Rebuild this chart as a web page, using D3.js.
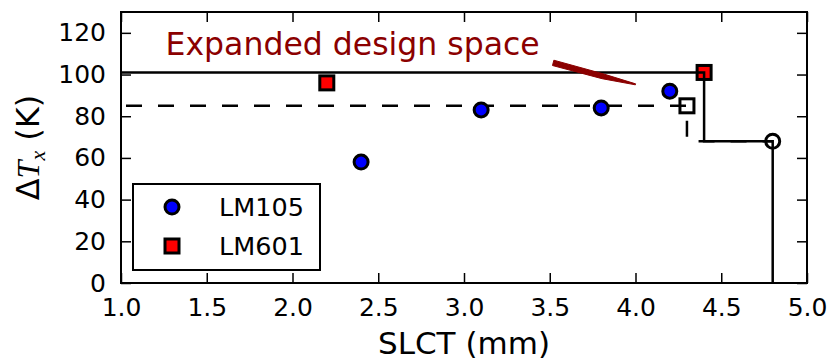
<!DOCTYPE html>
<html>
<head>
<meta charset="utf-8">
<script src="https://cdn.jsdelivr.net/npm/d3@7"></script>
<style>
  body { margin: 0; background: #fff; }
  svg { display: block; font-family: "DejaVu Sans", sans-serif; }
</style>
</head>
<body>
<svg id="chart" width="830" height="362"></svg>
<script>
// Data
const lm105X = [2.4, 3.1, 3.8, 4.2];
const lm105Y = [58, 83, 84, 92];
const lm601X = [2.2, 4.4];
const lm601Y = [96, 101];
// expanded design space boundary (solid) and old boundary (dashed)
const solidX = [1.0, 4.4, 4.4, 4.8, 4.8];
const solidY = [101, 101, 68, 68, 0];
const dashedX = [1.0, 4.3, 4.3, 4.8];
const dashedY = [85, 85, 68, 68];
// hollow markers at the boundary corners
const openSquare = [4.3, 85];
const openCircle = [4.8, 68];
const xTicks = [1.0, 1.5, 2.0, 2.5, 3.0, 3.5, 4.0, 4.5, 5.0];
const yTicks = [0, 20, 40, 60, 80, 100, 120];
const arrowFrom = [3.52, 105.6];
const arrowTo = [4.0, 95.3];

const svg = d3.select("#chart");
const plotL = 121, plotR = 807, plotT = 12, plotB = 283;

const x = d3.scaleLinear().domain([1, 5]).range([plotL, plotR]);
const y = d3.scaleLinear().domain([0, 130]).range([plotB, plotT]);

// ticks, inward on all four sides
const tickLen = 10;
const axes = [
    d3.axisBottom(x).tickValues(xTicks).tickFormat(d3.format(".1f")),
    d3.axisTop(x).tickValues(xTicks).tickFormat(""),
    d3.axisLeft(y).tickValues(yTicks).tickFormat(d3.format("d")),
    d3.axisRight(y).tickValues(yTicks).tickFormat("")
];
const shifts = [`translate(0,${plotB})`, `translate(0,${plotT})`,
                `translate(${plotL},0)`, `translate(${plotR},0)`];
axes.forEach((ax, i) => {
    const g = svg.append("g")
        .attr("transform", shifts[i])
        .call(ax.tickSizeInner(-tickLen).tickSizeOuter(0).tickPadding(tickLen + 5));
    g.select(".domain").remove();
    g.selectAll(".tick line").attr("stroke", "#000").attr("stroke-width", 1.5);
    g.selectAll(".tick text")
        .attr("fill", "#000")
        .style("font-family", "'DejaVu Sans', sans-serif")
        .style("font-size", "25px");
});

// line helper
const line = d3.line().x(d => x(d[0])).y(d => y(d[1]));

// red squares (lines sit on top of the one at the corner)
const sq = 14;
svg.append("g").selectAll("rect")
    .data(d3.zip(lm601X, lm601Y))
    .enter().append("rect")
    .attr("x", d => x(d[0]) - sq / 2)
    .attr("y", d => y(d[1]) - sq / 2)
    .attr("width", sq).attr("height", sq)
    .attr("fill", "#ff0000")
    .attr("stroke", "#000")
    .attr("stroke-width", 3);

// hollow markers
svg.append("rect")
    .attr("x", x(openSquare[0]) - sq / 2)
    .attr("y", y(openSquare[1]) - sq / 2)
    .attr("width", sq).attr("height", sq)
    .attr("fill", "none").attr("stroke", "#000").attr("stroke-width", 3);
svg.append("circle")
    .attr("cx", x(openCircle[0])).attr("cy", y(openCircle[1]))
    .attr("r", 7)
    .attr("fill", "none").attr("stroke", "#000").attr("stroke-width", 3);

// boundaries
svg.append("path")
    .datum(d3.zip(dashedX, dashedY))
    .attr("d", line)
    .attr("fill", "none")
    .attr("stroke", "#000")
    .attr("stroke-width", 2.5)
    .attr("stroke-dasharray", "16,16")
    .attr("stroke-dashoffset", -5);
svg.append("path")
    .datum(d3.zip(solidX, solidY))
    .attr("d", line)
    .attr("fill", "none")
    .attr("stroke", "#000")
    .attr("stroke-width", 2.5);

// blue circles on top
svg.append("g").selectAll("circle")
    .data(d3.zip(lm105X, lm105Y))
    .enter().append("circle")
    .attr("cx", d => x(d[0]))
    .attr("cy", d => y(d[1]))
    .attr("r", 7)
    .attr("fill", "#0000ff")
    .attr("stroke", "#000")
    .attr("stroke-width", 3);

// frame
svg.append("rect")
    .attr("x", plotL).attr("y", plotT)
    .attr("width", plotR - plotL).attr("height", plotB - plotT)
    .attr("fill", "none").attr("stroke", "#000").attr("stroke-width", 2);

// annotation
svg.append("text")
    .attr("x", x(1.26)).attr("y", y(109.5))
    .attr("fill", "#8b0000")
    .style("font-size", "31.5px")
    .text("Expanded design space");

// tapered wedge arrow
const sx = x(arrowFrom[0]), sy = y(arrowFrom[1]);
const ex = x(arrowTo[0]), ey = y(arrowTo[1]);
const len = Math.hypot(ex - sx, ey - sy);
const ux = (ex - sx) / len, uy = (ey - sy) / len;
const nx = -uy, ny = ux;
const w0 = 5.5, w1 = 4, w2 = 1;
const mx = sx + ux * len * 0.6, my = sy + uy * len * 0.6;
const wedge = [
    [sx + nx * w0 / 2, sy + ny * w0 / 2],
    [mx + nx * w1 / 2, my + ny * w1 / 2 + 1],
    [ex + nx * w2 / 2, ey + ny * w2 / 2],
    [ex - nx * w2 / 2, ey - ny * w2 / 2],
    [mx - nx * w1 / 2, my - ny * w1 / 2],
    [sx - nx * w0 / 2, sy - ny * w0 / 2]
];
svg.append("path")
    .attr("d", "M" + wedge.map(p => p.join(",")).join("L") + "Z")
    .attr("fill", "#8b0000")
    .attr("stroke", "#8b0000")
    .attr("stroke-width", 1)
    .attr("stroke-linejoin", "round");

// legend
const lg = svg.append("g");
lg.append("rect")
    .attr("x", 133).attr("y", 184)
    .attr("width", 187).attr("height", 86)
    .attr("fill", "#fff").attr("stroke", "#000").attr("stroke-width", 2);
lg.append("circle")
    .attr("cx", 172).attr("cy", 207).attr("r", 7)
    .attr("fill", "#0000ff").attr("stroke", "#000").attr("stroke-width", 3);
lg.append("rect")
    .attr("x", 172 - sq / 2).attr("y", 246 - sq / 2)
    .attr("width", sq).attr("height", sq)
    .attr("fill", "#ff0000").attr("stroke", "#000").attr("stroke-width", 3);
lg.append("text").attr("x", 219).attr("y", 216)
    .style("font-size", "25.5px").text("LM105");
lg.append("text").attr("x", 219).attr("y", 255)
    .style("font-size", "25.5px").text("LM601");

// axis labels
svg.append("text")
    .attr("x", (plotL + plotR) / 2).attr("y", 354)
    .attr("text-anchor", "middle")
    .style("font-size", "31px")
    .text("SLCT (mm)");

const yl = svg.append("text")
    .attr("transform", `translate(39,${(plotT + plotB) / 2}) rotate(-90)`)
    .attr("text-anchor", "middle")
    .style("font-size", "32px");
yl.append("tspan").text("Δ");
yl.append("tspan").style("font-family", "'Liberation Serif', serif")
    .style("font-style", "italic").text("T");
yl.append("tspan").style("font-family", "'Liberation Serif', serif")
    .style("font-style", "italic").style("font-size", "22px")
    .attr("dy", 6).text("x");
yl.append("tspan").attr("dy", -6).text(" (K)");
</script>
</body>
</html>
